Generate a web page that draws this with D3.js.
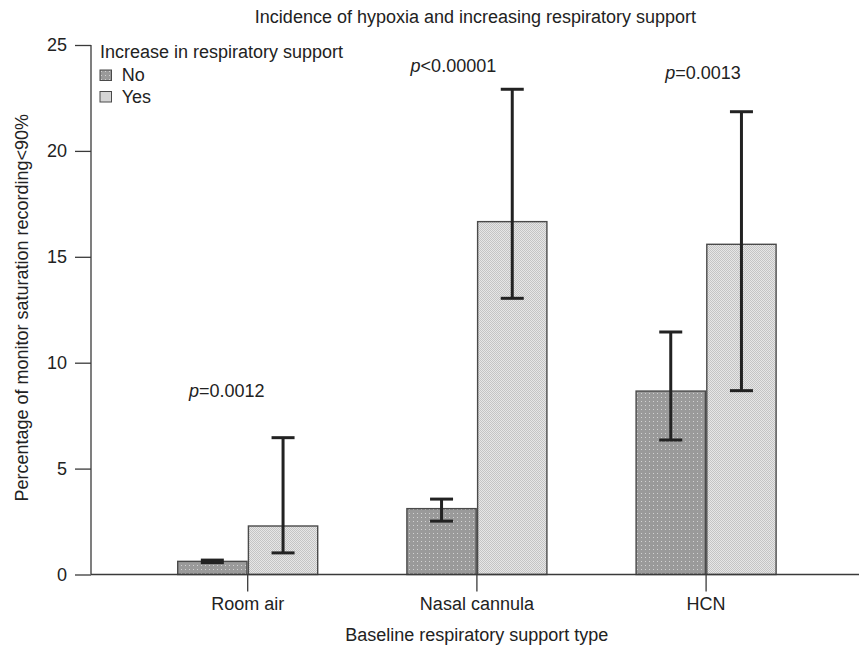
<!DOCTYPE html>
<html>
<head>
<meta charset="utf-8">
<script src="https://cdn.jsdelivr.net/npm/d3@7"></script>
<style>
  body { margin: 0; background: #fff; }
  text { font-family: "Liberation Sans", Arial, sans-serif; fill: #222; }
</style>
</head>
<body>
<div id="graph"></div>
<script>
// data
const categories = ["Room air", "Nasal cannula", "HCN"];
const groups = ["No", "Yes"];
const meanNo  = [0.62, 3.11, 8.66];
const lowNo   = [0.56, 2.52, 6.35];
const highNo  = [0.68, 3.56, 11.45];
const meanYes = [2.29, 16.66, 15.59];
const lowYes  = [1.02, 13.04, 8.68];
const highYes = [6.46, 22.91, 21.85];
const pLabels = ["=0.0012", "<0.00001", "=0.0013"];
const pLabelY = [8.39, 23.73, 23.38];
const yTicks = [0, 5, 10, 15, 20, 25];

const width = 859, height = 648;
const margin = { top: 45, right: 38, bottom: 73.5, left: 91 };

const rows = [];
categories.forEach(function(c, i) {
  rows.push({ cat: c, grp: "No", mean: meanNo[i], low: lowNo[i], high: highNo[i] });
  rows.push({ cat: c, grp: "Yes", mean: meanYes[i], low: lowYes[i], high: highYes[i] });
});

const svg = d3.select("#graph")
  .append("svg")
  .attr("width", width)
  .attr("height", height);

// fill textures
const defs = svg.append("defs");
const pNo = defs.append("pattern")
  .attr("id", "patNo").attr("patternUnits", "userSpaceOnUse")
  .attr("width", 4).attr("height", 4);
pNo.append("rect").attr("width", 4).attr("height", 4).attr("fill", "#9a9a9a");
pNo.append("rect").attr("x", 1).attr("y", 1).attr("width", 1).attr("height", 1).attr("fill", "#d2d2d2");

const pYes = defs.append("pattern")
  .attr("id", "patYes").attr("patternUnits", "userSpaceOnUse")
  .attr("width", 2).attr("height", 2);
pYes.append("rect").attr("width", 2).attr("height", 2).attr("fill", "#e6e6e6");
pYes.append("rect").attr("width", 1).attr("height", 1).attr("fill", "#c4c4c4");
pYes.append("rect").attr("x", 1).attr("y", 1).attr("width", 1).attr("height", 1).attr("fill", "#c4c4c4");

const fillFor = { No: "url(#patNo)", Yes: "url(#patYes)" };

const yscale = d3.scaleLinear()
  .domain([0, 25])
  .range([height - margin.bottom, margin.top]);

const xscale = d3.scaleBand()
  .domain(categories)
  .range([133.1, 820.7]);

const xsub = d3.scaleBand()
  .domain(groups)
  .range([-70, 70])
  .paddingInner(0.02);

function cx(d) { return xscale(d.cat) + xscale.bandwidth() / 2; }
function bx(d) { return cx(d) + xsub(d.grp); }

// title
svg.append("text")
  .attr("x", 475.5)
  .attr("y", 23.3)
  .attr("text-anchor", "middle")
  .attr("font-size", "18px")
  .text("Incidence of hypoxia and increasing respiratory support");

// bars
svg.selectAll(".bar")
  .data(rows)
  .enter()
  .append("rect")
  .attr("class", "bar")
  .attr("x", bx)
  .attr("width", xsub.bandwidth())
  .attr("y", function(d) { return yscale(d.mean); })
  .attr("height", function(d) { return yscale(0) - yscale(d.mean); })
  .attr("fill", function(d) { return fillFor[d.grp]; })
  .attr("stroke", "#4a4a4a")
  .attr("stroke-width", 1.4);

// error bars
const capw = 23;
const err = svg.selectAll(".err")
  .data(rows)
  .enter()
  .append("g")
  .attr("class", "err")
  .attr("stroke", "#222")
  .attr("stroke-width", 3);

err.append("line")
  .attr("x1", function(d) { return bx(d) + xsub.bandwidth() / 2; })
  .attr("x2", function(d) { return bx(d) + xsub.bandwidth() / 2; })
  .attr("y1", function(d) { return yscale(d.low); })
  .attr("y2", function(d) { return yscale(d.high); });

["low", "high"].forEach(function(k) {
  err.append("line")
    .attr("x1", function(d) { return bx(d) + xsub.bandwidth() / 2 - capw / 2; })
    .attr("x2", function(d) { return bx(d) + xsub.bandwidth() / 2 + capw / 2; })
    .attr("y1", function(d) { return yscale(d[k]); })
    .attr("y2", function(d) { return yscale(d[k]); });
});

// p values
const pdx = [-21, -23.5, -3];
const pt = svg.selectAll(".pval")
  .data(categories)
  .enter()
  .append("text")
  .attr("class", "pval")
  .attr("x", function(d, i) { return xscale(d) + xscale.bandwidth() / 2 + pdx[i]; })
  .attr("y", function(d, i) { return yscale(pLabelY[i]); })
  .attr("text-anchor", "middle")
  .attr("font-size", "18px");
pt.append("tspan").attr("font-style", "italic").text("p");
pt.append("tspan").text(function(d, i) { return pLabels[i]; });

// y axis
const yAxis = d3.axisLeft(yscale).tickValues(yTicks).tickSize(16).tickPadding(8);
const gy = svg.append("g")
  .attr("transform", "translate(" + margin.left + ",0)")
  .call(yAxis);
gy.select(".domain").attr("d", "M0," + yscale(25) + "V" + yscale(0));

// x axis
const xAxis = d3.axisBottom(xscale).tickSize(17).tickPadding(6);
const gx = svg.append("g")
  .attr("transform", "translate(0," + yscale(0) + ")")
  .call(xAxis);
gx.select(".domain").attr("d", "M" + margin.left + ",0H" + width);

[gx, gy].forEach(function(g) {
  g.selectAll("path, line").attr("stroke", "#3a3a3a").attr("stroke-width", 1.3);
  g.selectAll("text")
    .attr("font-size", "18px")
    .attr("font-family", "Liberation Sans, Arial, sans-serif")
    .attr("fill", "#222");
});

// axis titles
svg.append("text")
  .attr("x", 476.7)
  .attr("y", 641)
  .attr("text-anchor", "middle")
  .attr("font-size", "18px")
  .text("Baseline respiratory support type");

svg.append("text")
  .attr("transform", "translate(28.3," + (yscale(12.5) - 2) + ") rotate(-90)")
  .attr("text-anchor", "middle")
  .attr("font-size", "18px")
  .text("Percentage of monitor saturation recording<90%");

// legend
const legend = svg.append("g").attr("transform", "translate(100,0)");
legend.append("text")
  .attr("x", 0)
  .attr("y", 58.3)
  .attr("font-size", "18px")
  .text("Increase in respiratory support");

const li = legend.selectAll(".li")
  .data(groups)
  .enter()
  .append("g")
  .attr("class", "li")
  .attr("transform", function(d, i) { return "translate(0," + (70 + i * 21.5) + ")"; });
li.append("rect")
  .attr("width", 11.5)
  .attr("height", 10.5)
  .attr("fill", function(d) { return fillFor[d]; })
  .attr("stroke", "#4a4a4a")
  .attr("stroke-width", 1);
li.append("text")
  .attr("x", 21.7)
  .attr("y", 11)
  .attr("font-size", "18px")
  .text(function(d) { return d; });
</script>
</body>
</html>
